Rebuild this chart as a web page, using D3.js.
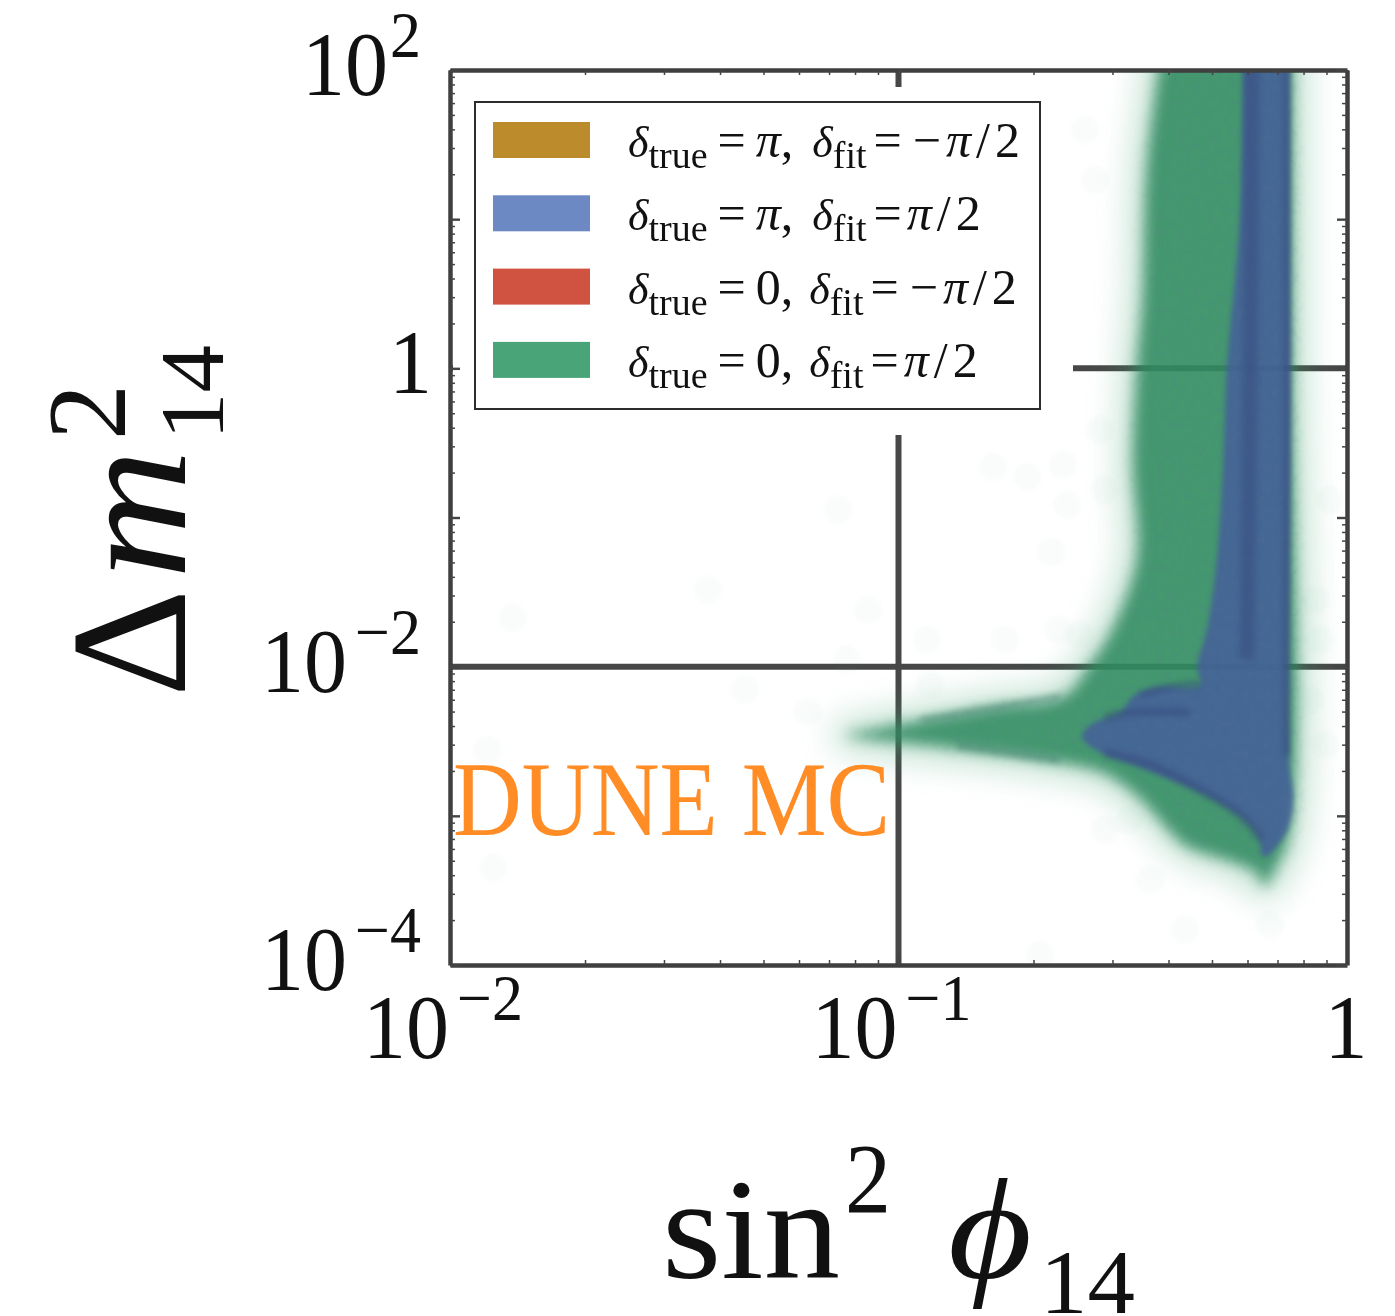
<!DOCTYPE html>
<html><head><meta charset="utf-8">
<script src="https://cdnjs.cloudflare.com/ajax/libs/d3/7.8.5/d3.min.js"></script>
<style>html,body{margin:0;padding:0;background:#fff;overflow:hidden}svg{display:block}text{font-family:"Liberation Serif",serif;fill:#111}</style>
</head><body><svg id="c" width="1395" height="1316"></svg>
<script>
// Values are log10(sin^2 phi14), log10(dm^2 14)
const greenLogX=[-0.41,-0.446,-0.455,-0.468,-0.477,-0.468,-0.522,-0.575,-0.631,-0.774,-0.941,-1.061,-1.119,-0.901,-0.678,-0.542,-0.455,-0.408,-0.359,-0.263,-0.201,-0.185,-0.161,-0.127,-0.123,-0.123];
const greenLogY=[2.2,1.35,0.479,0.003,-0.634,-1.271,-1.747,-2.001,-2.202,-2.269,-2.357,-2.424,-2.457,-2.538,-2.625,-2.712,-2.9,-3.06,-3.2,-3.3,-3.382,-3.476,-3.362,-3.094,0,2.2];
const blueLogX=[-0.232,-0.239,-0.268,-0.276,-0.29,-0.312,-0.334,-0.328,-0.424,-0.479,-0.504,-0.566,-0.591,-0.56,-0.464,-0.337,-0.247,-0.201,-0.185,-0.136,-0.12,-0.129,-0.127,-0.129];
const blueLogY=[2.2,1.008,0.003,-0.634,-1.271,-1.747,-2.001,-2.122,-2.142,-2.202,-2.31,-2.377,-2.47,-2.558,-2.672,-2.826,-2.98,-3.114,-3.275,-3.114,-2.893,-2.625,-0.212,2.2];
const darkLinesLogX=[[-0.212,-0.216,-0.223],[-0.134,-0.134],[-0.54,-0.495,-0.395,-0.35],[-0.54,-0.439,-0.328,-0.239,-0.19],[-0.462,-0.395,-0.328]];
const darkLinesLogY=[[2.2,0.003,-1.95],[2.2,-2.6],[-2.343,-2.31,-2.303,-2.31],[-2.578,-2.658,-2.826,-2.993,-3.161],[-2.189,-2.135,-2.115]];
const tailLinesLogX=[[-0.95,-0.64],[-0.87,-0.64]];
const tailLinesLogY=[[-2.36,-2.2],[-2.53,-2.63]];
const strayLogX=[-1.86,-1.425,-1.342,-1.202,-1.115,-1.068,-0.936,-0.93,-0.763,-0.644,-0.658,-0.789,-0.713,-0.633,-0.624,-1.135,-0.54,-0.562,-0.584,-0.551,-0.071,-0.038,-0.06,-0.049,-0.082,-0.439,-0.361,-0.172,-0.684,-1.904,-1.917,-0.54,-0.484,-0.595];
const strayLogY=[-1.673,-1.485,-2.155,-2.303,-1.954,-1.619,-1.82,-2.122,-1.82,-1.753,-1.231,-0.661,-0.728,-0.647,-0.916,-0.949,-0.815,1.263,1.598,-0.413,-1.552,-0.882,-1.82,-2.524,-2.223,-3.429,-3.764,-3.731,-3.932,-3.349,-2.558,-3.094,-3.027,-1.787];
const xTickExps=[-2,-1,0];
const yTickExps=[-4,-2,0,2];
const legendColors=["#BC8B2C","#6C89C4","#CF5340","#49A578"];
const legendTrue=["π","π","0","0"];
const legendFit=[["−","π","/","2"],["π","/","2"],["−","π","/","2"],["π","/","2"]];
const guideX=[0.1];
const guideY=[1,0.01];

const svg=d3.select("#c");
const L=450,R=1347,T=70,B=965;
const x=d3.scaleLog().domain([0.01,1]).range([L,R]);
const y=d3.scaleLog().domain([1e-4,100]).range([B,T]);
const defs=svg.append("defs");
defs.append("clipPath").attr("id","plot").append("rect").attr("x",L).attr("y",T).attr("width",R-L).attr("height",B-T);
function blurF(id,b){
  defs.append("filter").attr("id",id).attr("filterUnits","userSpaceOnUse").attr("x",-50).attr("y",-300).attr("width",1600).attr("height",1800).attr("color-interpolation-filters","sRGB")
    .append("feGaussianBlur").attr("stdDeviation",b);
}
blurF("soft",7);blurF("halo",17);blurF("edge",2.5);blurF("band",3);blurF("imgblur",0.6);blurF("dotblur",2);
const gr=defs.append("filter").attr("id","grain").attr("filterUnits","userSpaceOnUse").attr("x",300).attr("y",-100).attr("width",1200).attr("height",1200);
gr.append("feGaussianBlur").attr("in","SourceAlpha").attr("stdDeviation",9).attr("result","a");
gr.append("feTurbulence").attr("type","fractalNoise").attr("baseFrequency",0.14).attr("numOctaves",2).attr("seed",9);
gr.append("feColorMatrix").attr("values","0 0 0 0 0.1  0 0 0 0 0.2  0 0 0 0 0.3  1.6 0 0 0 -0.72").attr("result","g");
gr.append("feComposite").attr("in","g").attr("in2","a").attr("operator","in");

const root=svg.append("g").attr("filter","url(#imgblur)");
const px=a=>10**a;
const area=d3.line().x(d=>x(px(d[0]))).y(d=>y(px(d[1]))).curve(d3.curveCatmullRom.alpha(0.5));
const poly=(xs,ys)=>area(d3.zip(xs,ys));
const plot=root.append("g").attr("clip-path","url(#plot)");

// guide lines
const lineCol="#474747";
plot.selectAll(".gx").data(guideX).join("line").attr("x1",d=>x(d)).attr("x2",d=>x(d)).attr("y1",T).attr("y2",B).attr("stroke",lineCol).attr("stroke-width",6);
plot.selectAll(".gy").data(guideY).join("line").attr("y1",d=>y(d)).attr("y2",d=>y(d)).attr("x1",L).attr("x2",R).attr("stroke",lineCol).attr("stroke-width",6);
plot.append("rect").attr("x",L+3).attr("y",87).attr("width",620).attr("height",348).attr("fill","#fff");

// stray faint points
plot.append("g").attr("filter","url(#dotblur)").selectAll("circle").data(d3.zip(strayLogX,strayLogY)).join("circle")
 .attr("cx",d=>x(px(d[0]))).attr("cy",d=>y(px(d[1]))).attr("r",14).attr("fill","#49A578").attr("opacity",0.03);

// green
plot.append("path").attr("d",poly(greenLogX,greenLogY)+"Z").attr("fill","#49A578").attr("stroke","#49A578").attr("stroke-width",26).attr("stroke-linejoin","round").attr("opacity",0.36).attr("filter","url(#halo)");
plot.append("path").attr("d",poly(greenLogX,greenLogY)+"Z").attr("fill","#2E8A5E").attr("opacity",0.85).attr("filter","url(#soft)");
plot.append("path").attr("d",poly(greenLogX,greenLogY)+"Z").attr("fill","#2E8A5E").attr("filter","url(#grain)").attr("opacity",0.25);
plot.selectAll(".tail").data(d3.zip(tailLinesLogX,tailLinesLogY)).join("path").attr("d",d=>poly(d[0],d[1])).attr("fill","none").attr("stroke","#2F6E62").attr("stroke-width",6).attr("opacity",0.4).attr("filter","url(#band)");
// blue
plot.append("path").attr("d",poly(blueLogX,blueLogY)+"Z").attr("fill","#456099").attr("opacity",0.87).attr("filter","url(#edge)");
plot.append("path").attr("d",poly(blueLogX,blueLogY)+"Z").attr("fill","#456099").attr("filter","url(#grain)").attr("opacity",0.3);
const widths=[15,6,6,8,5];
const alphas=[0.42,0.6,0.6,0.5,0.6];
plot.selectAll(".dark").data(d3.zip(darkLinesLogX,darkLinesLogY,widths,alphas)).join("path").attr("d",d=>poly(d[0],d[1])).attr("fill","none").attr("stroke","#33457A").attr("stroke-width",d=>d[2]).attr("opacity",d=>d[3]).attr("filter","url(#band)");

// axes, ticks pointing inward
const ax=root.append("g");
const minorSet=[1,2,3,4,5,6,7,8,9];
const xv=d3.range(-2,0).flatMap(e=>minorSet.map(m=>m*10**e)).concat([1]);
const yv=d3.range(-4,2).flatMap(e=>minorSet.map(m=>m*10**e)).concat([100]);
function axis(gen,tx,ty,inward){
  const g=ax.append("g").attr("transform",`translate(${tx},${ty})`).call(gen.tickFormat("").tickSizeOuter(0));
  const isMaj=v=>Math.abs(Math.log10(v)-Math.round(Math.log10(v)))<1e-6;
  g.select(".domain").attr("stroke","#3f3f3f").attr("stroke-width",4.5);
  g.selectAll(".tick line").attr("stroke","#444").attr("stroke-width",d=>isMaj(d)?2.4:1.5)
    .attr(inward,function(d){return (inward==="y2"?(ty===B?-1:1):(tx===L?1:-1))*(isMaj(d)?10:5);});
}
axis(d3.axisBottom(x).tickValues(xv),0,B,"y2");
axis(d3.axisTop(x).tickValues(xv),0,T,"y2");
axis(d3.axisLeft(y).tickValues(yv),L,0,"x2");
axis(d3.axisRight(y).tickValues(yv),R,0,"x2");

// tick labels
const SY=1.05;
function tickLabel(e,xc,base,anchor){
  const g=root.append("g").attr("transform",`translate(${xc},${base}) scale(1,${SY})`);
  const t=g.append("text").attr("text-anchor",anchor).attr("font-size",86);
  if(e===0){t.text("1");return;}
  t.append("tspan").text("10");
  const sup=t.append("tspan").attr("font-size",62).attr("dy",-36).attr("dx",e<0?8:2);
  sup.text(e<0?"−"+(-e):String(e));
}
xTickExps.forEach(e=>tickLabel(e,x(10**e)-(e===0?1:7),1058,"middle"));
yTickExps.forEach(e=>tickLabel(e,L-(e===0?18:29),y(10**e)+25,"end"));

// DUNE MC
root.append("text").attr("x",453).attr("y",835).attr("font-size",106).attr("textLength",437).attr("lengthAdjust","spacingAndGlyphs").style("fill","#FF8C25").text("DUNE MC");

// legend
root.append("rect").attr("x",475).attr("y",102).attr("width",565).attr("height",307).attr("fill","#fff").attr("stroke","#2c2c2c").attr("stroke-width",2);
legendColors.forEach((c,i)=>{
  const cy=140+i*73.3;
  root.append("rect").attr("x",493).attr("y",cy-18).attr("width",97).attr("height",36).attr("fill",c);
  const t=root.append("text").attr("x",628).attr("y",cy+17).attr("font-size",50);
  t.append("tspan").attr("font-size",44).attr("font-style","italic").text("δ");
  t.append("tspan").attr("font-size",38).attr("dy",11).text("true");
  t.append("tspan").attr("dy",-11).attr("dx",10).text("=");
  t.append("tspan").attr("dx",10).attr("font-style",legendTrue[i]==="π"?"italic":"normal").text(legendTrue[i]);
  t.append("tspan").text(",");
  t.append("tspan").attr("dx",i<2?19:16).attr("font-size",44).attr("font-style","italic").text("δ");
  t.append("tspan").attr("font-size",38).attr("dy",11).text("fit");
  t.append("tspan").attr("dy",-11).attr("dx",7).text("=");
  legendFit[i].forEach((p,j)=>{
    t.append("tspan").attr("dx",j===0?(p==="−"?11:5):5).attr("font-style",p==="π"?"italic":"normal").text(p);
  });
});

// axis titles
const ylab=root.append("g").attr("transform","translate(185,697) rotate(-90)");
ylab.append("text").attr("font-size",165).attr("textLength",108).attr("lengthAdjust","spacingAndGlyphs").text("Δ");
ylab.append("text").attr("x",118).attr("font-size",162).attr("font-style","italic").attr("textLength",130).attr("lengthAdjust","spacingAndGlyphs").text("m");
ylab.append("text").attr("x",257).attr("y",-60).attr("font-size",112).attr("textLength",56).attr("lengthAdjust","spacingAndGlyphs").text("2");
ylab.append("text").attr("x",257).attr("y",38).attr("font-size",92).attr("textLength",95).attr("lengthAdjust","spacingAndGlyphs").text("14");
const xlab=root.append("g");
xlab.append("text").attr("x",662).attr("y",1278).attr("font-size",145).attr("textLength",178).attr("lengthAdjust","spacingAndGlyphs").text("sin");
xlab.append("text").attr("x",845).attr("y",1212).attr("font-size",100).attr("textLength",46).attr("lengthAdjust","spacingAndGlyphs").text("2");
xlab.append("text").attr("x",948).attr("y",1278).attr("font-size",145).attr("font-style","italic").attr("textLength",84).attr("lengthAdjust","spacingAndGlyphs").text("ϕ");
xlab.append("text").attr("x",1040).attr("y",1313).attr("font-size",92).attr("textLength",95).attr("lengthAdjust","spacingAndGlyphs").text("14");
</script></body></html>
